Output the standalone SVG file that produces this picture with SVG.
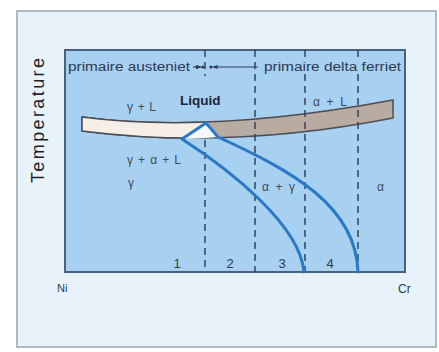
<svg xmlns="http://www.w3.org/2000/svg" width="439" height="352" viewBox="0 0 439 352">
<defs>
<style>
.t{font-family:"Liberation Sans",Arial,sans-serif;fill:#2c3a55}
.g{font-family:"Liberation Sans",Arial,sans-serif;fill:#3c4a5c;font-size:12px}
.n{font-family:"Liberation Sans",Arial,sans-serif;fill:#2e3a4a;font-size:13px;text-anchor:middle}
.dash{stroke:#2e3c50;stroke-width:1.4;stroke-dasharray:7 5;fill:none}
.blue{stroke:#2a78c8;stroke-width:3;fill:none;stroke-linecap:round}
</style>
<clipPath id="leftclip"><rect x="0" y="0" width="206" height="352"/></clipPath>
<marker id="ah" viewBox="0 0 10 10" refX="9" refY="5" markerWidth="5" markerHeight="5" orient="auto"><path d="M0,1 L10,5 L0,9 z" fill="#2c3a55"/></marker>
</defs>
<rect x="0" y="0" width="439" height="352" fill="#ffffff"/>
<g id="panel">
<rect x="17" y="11" width="419" height="336" fill="#e7f2fb" stroke="#9aa4ad" stroke-width="1.5"/>
</g>
<g id="plot">
<rect x="65" y="50" width="340" height="222" fill="#a8d0f0" stroke="#46627c" stroke-width="2"/>
</g>
<g id="band">
<path d="M82,117 Q210,134 393,100 L393,118 Q230,150 82,131 Z" fill="#b8aca2" stroke="#4e4e52" stroke-width="1.5"/>
<path d="M82,117 Q210,134 393,100 L393,118 Q230,150 82,131 Z" fill="#f5efe7" stroke="#4e4e52" stroke-width="1.5" clip-path="url(#leftclip)"/>
<path d="M182,139 L206,123 L218,137 Q200,139 182,139 Z" fill="#f4f8fc"/>
</g>
<g id="connectors">
<line class="dash" x1="205" y1="50" x2="205" y2="76"/>
<line class="dash" x1="205" y1="140" x2="205" y2="272"/>
<line class="dash" x1="255" y1="50" x2="255" y2="272"/>
<line class="dash" x1="305" y1="50" x2="305" y2="272"/>
<line class="dash" x1="358" y1="50" x2="358" y2="272"/>
<path class="blue" d="M182,139 L206,123 L218,137 C290,170 356,205 358,272"/>
<path class="blue" d="M182,139 C230,170 300,225 304,272"/>
<line x1="193" y1="67" x2="201" y2="67" stroke="#2c3a55" stroke-width="1.2" marker-end="url(#ah)"/>
<circle cx="203" cy="67" r="1.6" fill="#2c3a55"/>
<line x1="258" y1="67" x2="213" y2="67" stroke="#2c3a55" stroke-width="1" marker-end="url(#ah)"/>
<circle cx="211" cy="67" r="1.6" fill="#2c3a55"/>
</g>
<g id="labels">
<rect x="262" y="59" width="141" height="15" fill="#a8d0f0"/>
<text class="t" x="68" y="71" font-size="12.5" textLength="122" lengthAdjust="spacingAndGlyphs">primaire austeniet</text>
<text class="t" x="264" y="71" font-size="12.5" textLength="137" lengthAdjust="spacingAndGlyphs">primaire delta ferriet</text>
<text x="180" y="105" font-family="Liberation Sans,Arial,sans-serif" font-size="13.5" font-weight="bold" fill="#1e2438">Liquid</text>
<text class="g" x="127" y="111" textLength="29">γ + L</text>
<text class="g" x="313" y="106" textLength="34">α + L</text>
<text class="g" x="127" y="164" textLength="54">γ + α + L</text>
<text class="g" x="128" y="187">γ</text>
<text class="g" x="262" y="191" textLength="33">α + γ</text>
<text class="g" x="377" y="191">α</text>
<text class="n" x="177" y="268">1</text>
<text class="n" x="230" y="268">2</text>
<text class="n" x="282" y="268">3</text>
<text class="n" x="330" y="268">4</text>
<text class="t" x="57" y="292" font-size="11">Ni</text>
<text class="t" x="398" y="293" font-size="12">Cr</text>
<text font-family="Liberation Sans,Arial,sans-serif" font-size="18" fill="#1f1f1f" transform="translate(44,183) rotate(-90)" textLength="125" lengthAdjust="spacing">Temperature</text>
</g>
</svg>
